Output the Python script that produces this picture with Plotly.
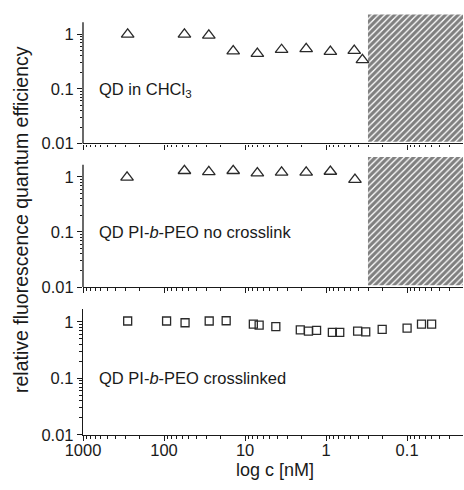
import plotly.graph_objects as go

# ---- data ----
conc_chcl3 = [281, 56, 28, 14, 7.05, 3.54, 1.76, 0.885, 0.449, 0.356]
qe_chcl3 = [0.99, 0.99, 0.95, 0.49, 0.44, 0.52, 0.54, 0.48, 0.50, 0.34]

conc_nocl = [286, 56, 28, 14, 7.05, 3.54, 1.76, 0.885, 0.44]
qe_nocl = [0.98, 1.29, 1.23, 1.29, 1.17, 1.21, 1.21, 1.25, 0.89]

conc_cl = [281, 93, 55, 27.7, 17.1, 7.9, 6.7, 4.17, 2.08, 1.65, 1.31,
           0.836, 0.678, 0.408, 0.324, 0.203, 0.1, 0.0664, 0.0498]
qe_cl = [1.03, 1.03, 0.96, 1.03, 1.04, 0.91, 0.87, 0.82, 0.72, 0.685, 0.705,
         0.65, 0.65, 0.68, 0.66, 0.73, 0.77, 0.91, 0.91]

panel_labels = ["QD in CHCl<sub>3</sub>",
                "QD PI-<i>b</i>-PEO no crosslink",
                "QD PI-<i>b</i>-PEO crosslinked"]
x_tickvals = [1000, 100, 10, 1, 0.1]
x_ticktext = ["1000", "100", "10", "1", "0.1"]
y_tickvals = [0.01, 0.1, 1]
y_ticktext = ["0.01", "0.1", "1"]

hatch_conc = [0.304, 0.001]       # concentration span of the hatched region
hatch_qe = [0.0108, 100]

# ---- layout constants ----
FONT = "Liberation Sans, Arial, sans-serif"
INK = "#1a1a1a"
x_range = [3, -1.69]                 # log10, reversed
y_range_hatched = [-2, 0.36]
y_range_plain = [-2, 0.225]
axis_top_log = 0.22
domains = [[0.6859, 0.9894], [0.3482, 0.6541], [0.0, 0.2965]]

x_minor = [k * 10 ** d for d in range(-2, 3) for k in range(2, 10)]
y_minor = [k * 10 ** d for d in range(-2, 0) for k in range(2, 10)]

fig = go.Figure()

series = [(conc_chcl3, qe_chcl3, "triangle-up-open", 11),
          (conc_nocl, qe_nocl, "triangle-up-open", 11),
          (conc_cl, qe_cl, "square-open", 8)]

for i, (xs, ys, sym, sz) in enumerate(series):
    ax = "" if i == 0 else str(i + 1)
    if i < 2:
        fig.add_trace(go.Scatter(
            x=[hatch_conc[0], hatch_conc[1], hatch_conc[1], hatch_conc[0], hatch_conc[0]],
            y=[hatch_qe[0], hatch_qe[0], hatch_qe[1], hatch_qe[1], hatch_qe[0]],
            mode="lines", fill="toself", line=dict(width=0),
            fillcolor="white",
            fillpattern=dict(shape="/", fgcolor="#000000", bgcolor="white",
                             size=4.5, solidity=0.7, fillmode="overlay"),
            xaxis="x" + ax, yaxis="y" + ax, showlegend=False, hoverinfo="skip"))
    fig.add_trace(go.Scatter(
        x=xs, y=ys, mode="markers",
        marker=dict(symbol=sym, size=sz, color="#2a2a2a",
                    line=dict(width=1.3, color="#2a2a2a")),
        xaxis="x" + ax, yaxis="y" + ax, showlegend=False, cliponaxis=False))

layout = dict(
    width=464, height=490,
    margin=dict(l=83, r=1, t=10, b=55),
    paper_bgcolor="white", plot_bgcolor="white",
    font=dict(family=FONT, size=16, color=INK),
    showlegend=False,
)

shapes = []
annotations = []
for i in range(3):
    ax = "" if i == 0 else str(i + 1)
    yr = y_range_hatched if i < 2 else y_range_plain
    xaxis = dict(
        type="log", range=x_range, domain=[0, 1], anchor="y" + ax,
        tickmode="array", tickvals=x_tickvals,
        showticklabels=(i == 2), ticks="outside", ticklen=5, tickwidth=1.2,
        tickcolor=INK, showline=True, linecolor=INK, linewidth=1.3,
        showgrid=False, zeroline=False,
        minor=dict(tickmode="array", tickvals=x_minor, ticks="outside",
                   ticklen=2.5, tickwidth=1, tickcolor=INK, showgrid=False),
    )
    if i == 2:
        xaxis.update(ticktext=x_ticktext, tickfont=dict(size=16.5),
                     ticklabelstandoff=-5)
    layout["xaxis" + ax] = xaxis
    layout["yaxis" + ax] = dict(
        type="log", range=yr, domain=domains[i], anchor="x" + ax,
        tickmode="array", tickvals=y_tickvals, ticktext=y_ticktext,
        ticks="outside", ticklen=5, tickwidth=1.2, tickcolor=INK,
        showline=(i == 2), linecolor=INK, linewidth=1.3,
        showgrid=False, zeroline=False, tickfont=dict(size=16.5),
        minor=dict(tickmode="array", tickvals=y_minor, ticks="outside",
                   ticklen=2.5, tickwidth=1, tickcolor=INK, showgrid=False),
    )
    if i < 2:
        frac = (axis_top_log - yr[0]) / (yr[1] - yr[0])
        shapes.append(dict(type="line", xref="x" + ax + " domain",
                           yref="y" + ax + " domain", x0=0, x1=0, y0=0, y1=frac,
                           line=dict(color=INK, width=1.3), layer="above"))
    annotations.append(dict(
        text=panel_labels[i], xref="x" + ax + " domain", yref="y" + ax,
        x=0.037, y=-1.03 if i == 0 else -1.0, xanchor="left", yanchor="middle",
        showarrow=False, font=dict(size=16.5, family=FONT, color=INK)))

annotations.append(dict(
    text="relative fluorescence quantum efficiency", xref="paper", yref="paper",
    x=-0.163, y=0.506, textangle=-90, xanchor="center", yanchor="middle",
    showarrow=False, font=dict(size=19.5, family=FONT, color=INK)))
annotations.append(dict(
    text="log c [nM]", xref="paper", yref="paper", x=0.505, y=-0.082,
    xanchor="center", yanchor="middle", showarrow=False,
    font=dict(size=18, family=FONT, color=INK)))

layout["shapes"] = shapes
layout["annotations"] = annotations
fig.update_layout(**layout)
fig.write_html("out.html")
